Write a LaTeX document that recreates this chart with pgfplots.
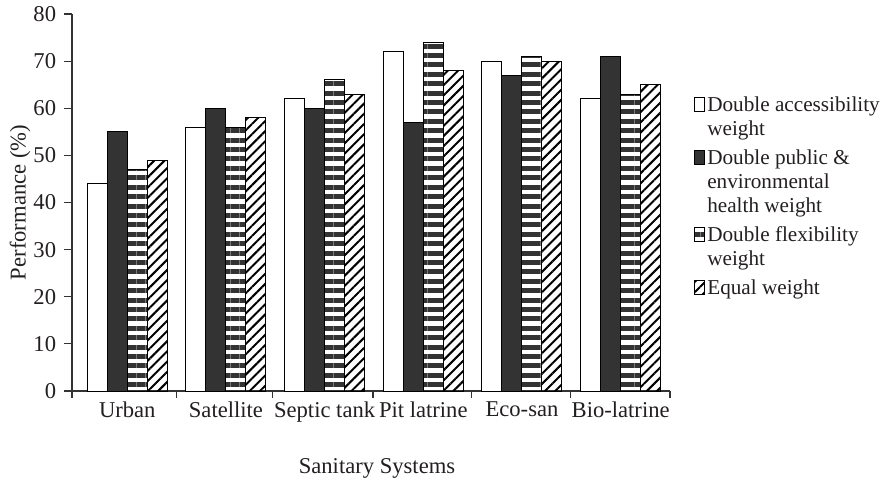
\documentclass[border=0pt]{standalone}
\usepackage{fontspec}
\setmainfont{Liberation Serif}
\usepackage{pgfplots}
\pgfplotsset{compat=1.18}
\usetikzlibrary{patterns.meta}
\definecolor{txt}{HTML}{231F20}
\definecolor{dk}{HTML}{333333}
\pgfplotsset{
  leg up/.style={legend image code/.code={\draw[##1, line width=0.5pt] (0pt,#1) rectangle (5pt,{#1+7pt});}},
}
\begin{document}
\fontsize{11.3}{12.5}\selectfont
\begin{tikzpicture}
\path[use as bounding box] (-36pt,-48.5pt) rectangle (405pt,195.5pt);
\begin{axis}[
  scale only axis, width=299pt, height=188.5pt,
  at={(0,0)}, anchor=south west,
  ybar=0pt, bar width=10pt,
  xmin=-0.56, xmax=5.5, ymin=0, ymax=80,
  axis x line*=bottom, axis y line*=left,
  axis line style={draw=black!80, line width=0.6pt},
  tick align=outside,
  xtick={0,...,5},
  xticklabels={Urban,Satellite,Septic tank,Pit latrine,Eco-san,Bio-latrine},
  major x tick style={draw=none},
  minor xtick={-0.56,0.5,1.47,2.49,3.49,4.49,5.5},
  minor tick length=3.5pt,
  minor x tick style={draw=black!80, line width=0.6pt},
  ytick={0,10,...,80},
  major tick length=4pt,
  y tick style={draw=black!80, line width=0.6pt},
  x tick label style={yshift=2.5pt},
  ticklabel style={font=\fontsize{11.3}{12.5}\selectfont, text=txt},
  /pgf/number format/assume math mode=true,
  ylabel={Performance (\%)},
  xlabel={Sanitary Systems},
  every axis y label/.style={at={(axis description cs:0,0.5)}, xshift=-26pt, rotate=90, anchor=center, font=\fontsize{11.3}{12.5}\selectfont, text=txt},
  every axis x label/.style={at={(axis description cs:0.5,0)}, yshift=-38.5pt, xshift=3pt, anchor=center, font=\fontsize{11.3}{12.5}\selectfont, text=txt},
  legend style={at={(1.04,0.785)}, anchor=north west, draw=none, fill=none,
    font=\rmfamily\fontsize{10.6}{12}\selectfont, text=txt, row sep=4.5pt, column sep=0pt,
    inner sep=0pt, nodes={inner xsep=1pt, inner ysep=0.5pt}, cells={anchor=base west, align=left}},
]
\addplot[draw=black, line width=0.5pt, fill=white, leg up=12pt]
  coordinates {(0,44) (1,56) (2,62) (3,72) (4,70) (5,62)};
\addplot[draw=black, line width=0.5pt, fill=dk, leg up=24pt]
  coordinates {(0,55) (1,60) (2,60) (3,57) (4,67) (5,71)};
\addplot[draw=black, line width=0.5pt, fill=white, pattern={Lines[angle=0, distance=4.7pt, line width=2.5pt]}, pattern color=dk, leg up=12pt]
  coordinates {(0,47) (1,56) (2,66) (3,74) (4,71) (5,63)};
\addplot[draw=black, line width=0.5pt, fill=white, pattern={Lines[angle=45, distance=3.6pt, line width=1pt]}, pattern color=black, leg up=0pt]
  coordinates {(0,49) (1,58) (2,63) (3,68) (4,70) (5,65)};
\addlegendentry{Double accessibility\\weight}
\addlegendentry{Double public \&\\environmental\\health weight}
\addlegendentry{Double flexibility\\weight}
\addlegendentry{Equal weight}
\end{axis}
\end{tikzpicture}
\end{document}
